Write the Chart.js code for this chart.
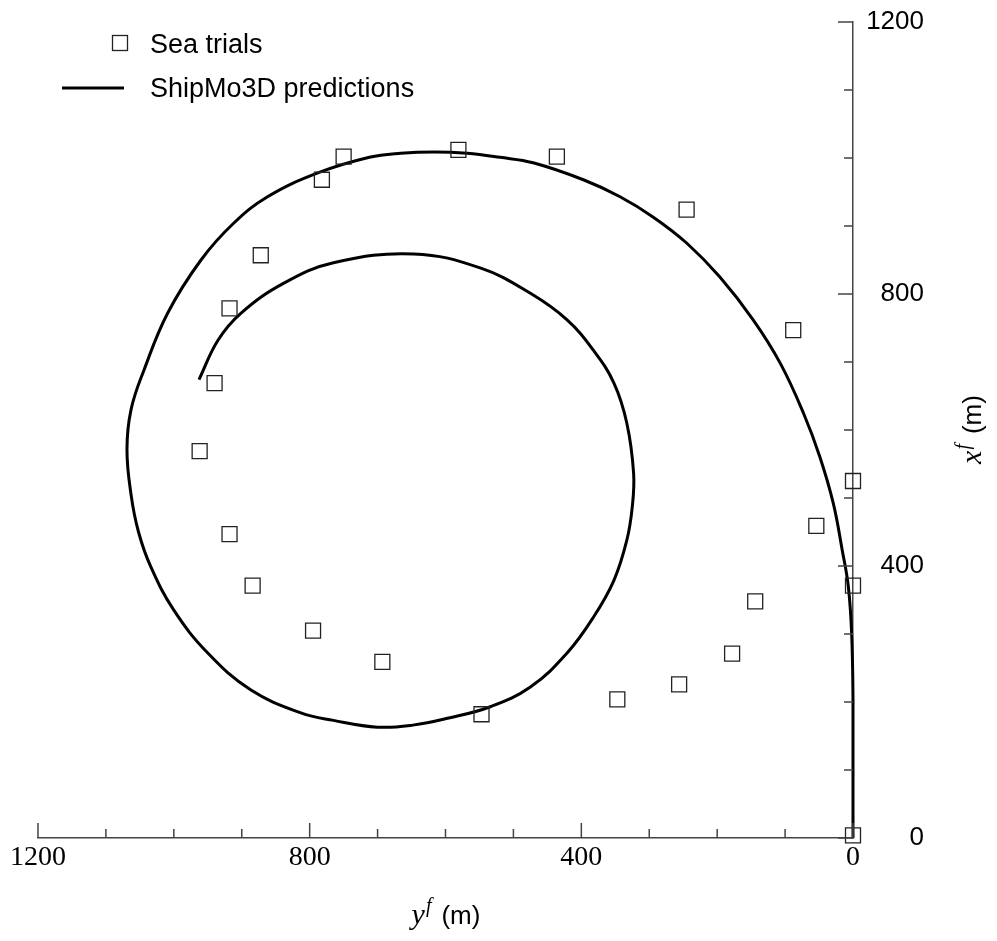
<!DOCTYPE html>
<html>
<head>
<meta charset="utf-8">
<title>Turning circle</title>
<script src="https://cdn.jsdelivr.net/npm/chart.js@4.4.1/dist/chart.umd.min.js"></script>
<style>
  html, body { margin: 0; padding: 0; background: #fff; }
  canvas { display: block; }
</style>
</head>
<body>
<canvas id="turnChart" width="997" height="941"></canvas>
<script>
// Sea trials, y^f and x^f in metres
const trialY = [0, 0, 0, 54, 88, 144, 178, 245, 256, 347, 436, 547, 581, 693, 750, 782, 795, 872, 884, 918, 918, 940, 962];
const trialX = [4, 371, 525, 459, 747, 348, 271, 924, 226, 204, 1002, 182, 1012, 259, 1002, 968, 305, 857, 371, 779, 447, 669, 569];

// ShipMo3D predicted track, read along the spiral
const predY = [0, 0, 0, 2, 7, 16, 29, 49, 73, 107, 147, 196, 245, 294, 343, 397, 471, 520, 568, 617, 666, 712, 788, 862, 912, 960, 1009, 1044, 1063, 1069, 1063, 1052, 1034, 1000, 950, 887, 813, 765, 700, 648, 597, 534, 475, 421, 382, 352, 333, 325, 323, 333, 352, 382, 421, 475, 548, 647, 765, 838, 901, 935, 963];
const predX = [0, 100, 203, 301, 371, 424, 492, 561, 625, 698, 762, 825, 875, 913, 943, 968, 993, 1001, 1007, 1009, 1007, 1001, 978, 943, 904, 850, 772, 688, 630, 571, 505, 450, 399, 335, 272, 218, 184, 173, 163, 166, 176, 193, 222, 272, 325, 379, 438, 487, 536, 610, 669, 717, 762, 801, 838, 859, 846, 816, 772, 732, 674];

const labelledTicks = [0, 400, 800, 1200];

const trials = trialY.map((v, i) => ({ x: v, y: trialX[i] }));
const track = predY.map((v, i) => ({ x: v, y: predX[i] }));

const sans = '"Liberation Sans", Arial, Helvetica, sans-serif';
const serif = '"Liberation Serif", "Times New Roman", serif';

// ticks point into the plot, plus axis titles and legend
const decorations = {
  id: 'decorations',
  afterDraw(chart) {
    const { ctx, scales: { x, y } } = chart;
    ctx.save();

    ctx.strokeStyle = '#444';
    ctx.lineWidth = 1.5;
    ctx.beginPath();
    x.ticks.forEach(t => {
      const len = labelledTicks.includes(t.value) ? 15 : 9;
      const px = x.getPixelForValue(t.value);
      ctx.moveTo(px, x.top);
      ctx.lineTo(px, x.top - len);
    });
    y.ticks.forEach(t => {
      const len = labelledTicks.includes(t.value) ? 15 : 9;
      const py = y.getPixelForValue(t.value);
      ctx.moveTo(y.left, py);
      ctx.lineTo(y.left - len, py);
    });
    ctx.stroke();

    // axis titles: italic symbol, superscript f, unit
    function title(sym, cx, baseline) {
      ctx.font = 'italic 30px ' + serif;
      const w1 = ctx.measureText(sym).width;
      ctx.font = 'italic 20px ' + serif;
      const w2 = ctx.measureText('f').width;
      ctx.font = '26px ' + sans;
      const w3 = ctx.measureText('(m)').width;
      const gap = 10;
      let pos = cx - (w1 + w2 + gap + w3) / 2;
      ctx.fillStyle = '#000';
      ctx.textBaseline = 'alphabetic';
      ctx.textAlign = 'left';
      ctx.font = 'italic 30px ' + serif;
      ctx.fillText(sym, pos, baseline);
      pos += w1 + 1;
      ctx.font = 'italic 20px ' + serif;
      ctx.fillText('f', pos, baseline - 12);
      pos += w2 + gap;
      ctx.font = '26px ' + sans;
      ctx.fillText('(m)', pos, baseline);
    }
    const area = chart.chartArea;
    title('y', (area.left + area.right) / 2, 924);
    ctx.save();
    ctx.translate(981, (area.top + area.bottom) / 2);
    ctx.rotate(-Math.PI / 2);
    title('x', 0, 0);
    ctx.restore();

    // legend
    ctx.font = '27px ' + sans;
    ctx.fillStyle = '#000';
    ctx.textBaseline = 'alphabetic';
    ctx.textAlign = 'left';
    ctx.strokeStyle = '#222';
    ctx.lineWidth = 1.3;
    ctx.strokeRect(112.5, 35.5, 15, 15);
    ctx.fillText(chart.data.datasets[0].label, 150, 53);
    ctx.strokeStyle = '#000';
    ctx.lineWidth = 3;
    ctx.beginPath();
    ctx.moveTo(62, 88);
    ctx.lineTo(124, 88);
    ctx.stroke();
    ctx.fillText(chart.data.datasets[1].label, 150, 97);

    ctx.restore();
  }
};

new Chart(document.getElementById('turnChart'), {
  type: 'scatter',
  data: {
    datasets: [
      {
        label: 'Sea trials',
        data: trials,
        pointStyle: 'rect',
        pointRadius: 10.6,
        pointHoverRadius: 10.6,
        borderColor: '#222',
        borderWidth: 1.3,
        backgroundColor: 'rgba(0,0,0,0)',
        clip: false
      },
      {
        label: 'ShipMo3D predictions',
        data: track,
        showLine: true,
        pointRadius: 0,
        pointHoverRadius: 0,
        borderColor: '#000',
        borderWidth: 3,
        tension: 0.4,
        fill: false,
        clip: false
      }
    ]
  },
  options: {
    responsive: false,
    animation: false,
    events: [],
    layout: { padding: { left: 38, top: 22, right: 73, bottom: 0 } },
    plugins: {
      legend: { display: false },
      tooltip: { enabled: false }
    },
    scales: {
      x: {
        type: 'linear',
        position: 'bottom',
        min: 0,
        max: 1200,
        reverse: true,
        grid: { display: false, drawTicks: false },
        border: { display: true, color: '#444', width: 1.5 },
        ticks: {
          stepSize: 100,
          autoSkip: false,
          maxRotation: 0,
          padding: 3,
          color: '#000',
          font: { family: serif, size: 28 },
          callback: v => labelledTicks.includes(v) ? String(v) : ''
        },
        afterFit: s => { s.height = 103; }
      },
      y: {
        type: 'linear',
        position: 'right',
        min: 0,
        max: 1200,
        grid: { display: false, drawTicks: false },
        border: { display: true, color: '#444', width: 1.5 },
        ticks: {
          stepSize: 100,
          autoSkip: false,
          padding: 0,
          crossAlign: 'far',
          color: '#000',
          font: { family: sans, size: 26 },
          callback: v => labelledTicks.includes(v) ? String(v) : ''
        },
        afterFit: s => { s.width = 71; }
      }
    }
  },
  plugins: [decorations]
});
</script>
</body>
</html>
